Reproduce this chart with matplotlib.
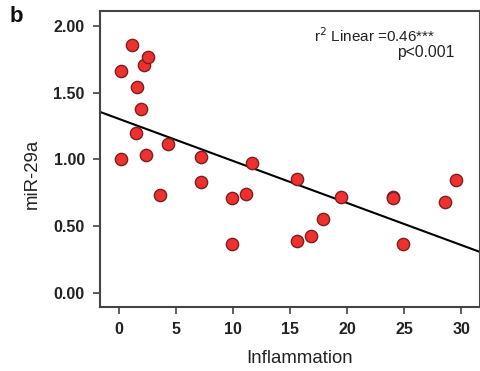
import numpy as np
import matplotlib
matplotlib.use('Agg')
import matplotlib.pyplot as plt

plt.rcParams['font.family'] = ['Liberation Sans', 'DejaVu Sans']

# values
inflammation = [0.2, 0.2, 1.1, 1.55, 1.9, 1.45, 2.2, 2.5, 2.4, 3.6, 4.3,
                7.15, 7.15, 9.9, 9.9, 11.1, 11.7, 15.6, 15.6, 16.8, 17.9,
                19.5, 24.0, 24.0, 24.9, 28.6, 29.5]
mir29a = [1.00, 1.665, 1.86, 1.545, 1.375, 1.20, 1.705, 1.765, 1.035, 0.735, 1.115,
          1.02, 0.835, 0.715, 0.365, 0.745, 0.97, 0.855, 0.39, 0.43, 0.555,
          0.72, 0.72, 0.715, 0.37, 0.685, 0.845]
fit_intercept = 1.304
fit_slope = -0.0315
xticks = [0, 5, 10, 15, 20, 25, 30]
yticks = [0.0, 0.5, 1.0, 1.5, 2.0]

fig = plt.figure(figsize=(4.81, 3.71), dpi=100)
ax = fig.add_axes([0.208, 0.1725, 0.789, 0.797])

ax.scatter(inflammation, mir29a, s=78, c='#f0302e', edgecolors='#7a2020',
           linewidths=1.0, zorder=3)

xl = np.array([-1.7, 31.7])
ax.plot(xl, fit_intercept + fit_slope * xl, color='black', lw=1.5, zorder=2)

ax.set_xlim(-1.66, 31.6)
ax.set_ylim(-0.105, 2.11)
ax.set_xticks(xticks)
ax.set_xticklabels([str(v) for v in xticks])
ax.set_yticks(yticks)
ax.set_yticklabels(['%.2f' % v for v in yticks])

for lab in ax.get_xticklabels() + ax.get_yticklabels():
    lab.set_fontweight('bold')
    lab.set_fontsize(11.5)
    lab.set_color('#222222')
ax.tick_params(direction='out', length=5, width=1.2, color='#444444', pad=6)
for sp in ax.spines.values():
    sp.set_linewidth(1.5)
    sp.set_color('#444444')

ax.set_xlabel('Inflammation', fontsize=13.4, color='#222222')
ax.set_ylabel('miR-29a', fontsize=13.4, color='#222222')
ax.xaxis.set_label_coords(0.525, -0.145)
ax.yaxis.set_label_coords(-0.157, 0.45)

ax.text(0.565, 0.919, 'r$^2$ Linear =0.46***', transform=ax.transAxes,
        va='center', fontsize=11, color='#222222')
ax.text(0.935, 0.861, 'p<0.001', transform=ax.transAxes, ha='right',
        va='center', fontsize=11.3, color='#222222')

fig.text(0.02, 0.94, 'b', fontsize=16, fontweight='bold', color='#111111')

fig.savefig('out.png', dpi=100)
